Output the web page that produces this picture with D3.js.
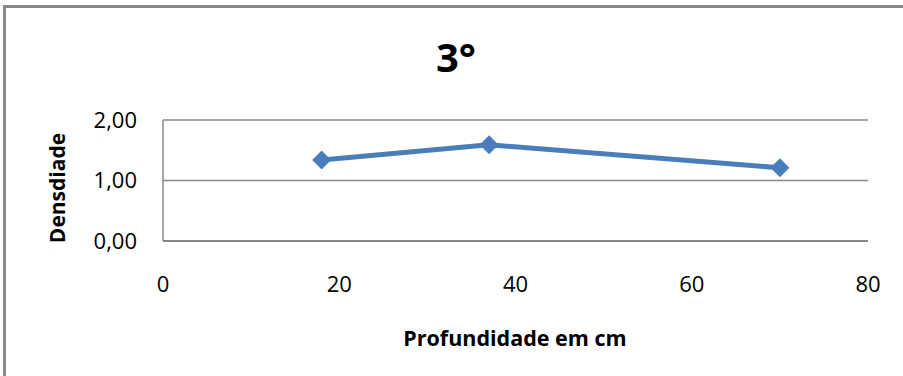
<!DOCTYPE html>
<html>
<head>
<meta charset="utf-8">
<script src="https://cdn.jsdelivr.net/npm/d3@7"></script>
<style>
  body { margin: 0; background: #fff; }
  svg { display: block; font-family: 'Open Sans', sans-serif; }
</style>
</head>
<body>
<div id="chart"></div>
<script>
// Data.
const depth = [18, 37, 70];
const density = [1.34, 1.59, 1.21];
const xTicks = [0, 20, 40, 60, 80];
const yTicks = [0, 1, 2];
const title = '3°';
const xTitle = 'Profundidade em cm';
const yTitle = 'Densdiade';

const W = 903, H = 376;
const margin = { top: 120, right: 35, bottom: 135, left: 163 };
const width = W - margin.left - margin.right;
const height = H - margin.top - margin.bottom;

const blue = '#4a7ebb';
const grey = '#888888';

const svg = d3.select('#chart')
  .append('svg')
  .attr('width', W)
  .attr('height', H);

// Outer frame (only top and left visible).
svg.append('rect')
  .attr('x', 4.5)
  .attr('y', 6.5)
  .attr('width', W + 20)
  .attr('height', H + 20)
  .attr('fill', 'none')
  .attr('stroke', grey)
  .attr('stroke-width', 3);

const x = d3.scaleLinear().domain([0, 80]).range([0, width]);
const y = d3.scaleLinear().domain([0, 2]).range([height, 0]);

const g = svg.append('g')
  .attr('transform', `translate(${margin.left},${margin.top})`);

// Gridlines.
g.selectAll('.grid')
  .data(yTicks.filter(d => d > 0))
  .join('line')
  .attr('class', 'grid')
  .attr('x1', 0)
  .attr('x2', width)
  .attr('y1', d => y(d))
  .attr('y2', d => y(d))
  .attr('stroke', grey)
  .attr('stroke-width', 1.5);

// Axis lines.
g.append('line')
  .attr('x1', 0).attr('x2', 0)
  .attr('y1', 0).attr('y2', height)
  .attr('stroke', grey)
  .attr('stroke-width', 1.5);
g.append('line')
  .attr('x1', 0).attr('x2', width)
  .attr('y1', height).attr('y2', height)
  .attr('stroke', grey)
  .attr('stroke-width', 2);

// Tick labels.
const fmt = d => d3.format('.2f')(d).replace('.', ',');
g.selectAll('.ylab')
  .data(yTicks)
  .join('text')
  .attr('class', 'ylab')
  .attr('x', -26)
  .attr('y', d => y(d))
  .attr('dy', '0.35em')
  .attr('text-anchor', 'end')
  .style('font-size', '22px')
  .text(fmt);

g.selectAll('.xlab')
  .data(xTicks)
  .join('text')
  .attr('class', 'xlab')
  .attr('x', d => x(d))
  .attr('y', height + 43)
  .attr('dy', '0.35em')
  .attr('text-anchor', 'middle')
  .style('font-size', '22px')
  .text(d => d);

// Line and diamond markers.
const pts = depth.map((d, i) => [d, density[i]]);
g.append('path')
  .datum(pts)
  .attr('fill', 'none')
  .attr('stroke', blue)
  .attr('stroke-width', 5)
  .attr('stroke-linejoin', 'round')
  .attr('d', d3.line().x(d => x(d[0])).y(d => y(d[1])));

g.selectAll('.pt')
  .data(pts)
  .join('path')
  .attr('class', 'pt')
  .attr('transform', d => `translate(${x(d[0])},${y(d[1])})`)
  .attr('d', d3.symbol(d3.symbolDiamond2, 230))
  .attr('fill', blue);

// Titles.
svg.append('text')
  .attr('x', 456)
  .attr('y', 58)
  .attr('dy', '0.35em')
  .attr('text-anchor', 'middle')
  .style('font-size', '40px')
  .style('font-weight', 'bold')
  .text(title);

svg.append('text')
  .attr('x', 515)
  .attr('y', 338)
  .attr('dy', '0.35em')
  .attr('text-anchor', 'middle')
  .style('font-size', '21.5px')
  .style('font-weight', 'bold')
  .text(xTitle);

svg.append('text')
  .attr('transform', 'translate(58,188) rotate(-90)')
  .attr('dy', '0.35em')
  .attr('text-anchor', 'middle')
  .style('font-size', '21px')
  .style('font-weight', 'bold')
  .text(yTitle);
</script>
</body>
</html>
